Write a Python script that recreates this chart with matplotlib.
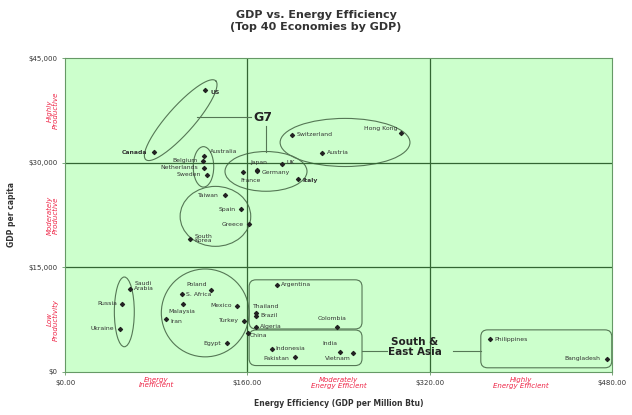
import numpy as np
import matplotlib.pyplot as plt
from matplotlib.patches import Ellipse, FancyBboxPatch

# data: GDP per million Btu, GDP per capita
countries = ["US", "Canada", "Australia", "Belgium", "Netherlands", "Sweden",
             "Taiwan", "Spain", "Greece", "South\nKorea",
             "Japan", "UK", "Germany", "France", "Italy",
             "Switzerland", "Hong Kong", "Austria",
             "Saudi\nArabia", "Russia", "Ukraine",
             "Poland", "S. Africa", "Malaysia", "Iran", "Mexico", "Turkey", "Egypt",
             "Argentina", "Thailand", "Brazil", "Algeria", "China", "Colombia",
             "Indonesia", "Pakistan", "India", "Vietnam",
             "Philippines", "Bangladesh"]
efficiency = [123, 78, 122, 121, 122, 124.5,
              140, 154.5, 161.7, 110,
              168.5, 190.5, 168.5, 156, 204.5,
              199.5, 295, 226,
              57, 50.3, 48.3,
              128, 102.4, 103.8, 88.4, 151, 157.4, 142,
              185.8, 167.6, 168, 167.6, 161, 238.5,
              181.4, 202, 241.4, 253,
              373, 476]
gdp_pc = [40400, 31500, 31000, 30300, 29300, 28300,
          25300, 23300, 21200, 19100,
          29000, 29800, 28800, 28650, 27700,
          34000, 34300, 31400,
          11900, 9800, 6200,
          11800, 11100, 9700, 7550, 9500, 7300, 4100,
          12500, 8400, 8050, 6500, 5550, 6400,
          3300, 2100, 2900, 2700,
          4700, 1900]

xticks = [0, 160, 320, 480]
yticks = [0, 15000, 30000, 45000]
xtick_labels = ["$0.00", "$160.00", "$320.00", "$480.00"]
ytick_labels = ["$0", "$15,000", "$30,000", "$45,000"]
x_bands = ["Energy\nInefficient", "Moderately\nEnergy Efficient", "Highly\nEnergy Efficient"]
y_bands = ["Low\nProductivity", "Moderately\nProductive", "Highly\nProductive"]

# label placement: (dx, dy) in points, ha, bold
place = {
    "US": (4, -2, "left", True), "Canada": (-5, 0, "right", True),
    "Australia": (4, 3, "left", False), "Belgium": (-4, 0, "right", False),
    "Netherlands": (-4, 0, "right", False), "Sweden": (-4, 0, "right", False),
    "Taiwan": (-4, 0, "right", False), "Spain": (-4, 0, "right", False),
    "Greece": (-4, 0, "right", False), "South\nKorea": (3, 0, "left", False),
    "Japan": (-5, 5, "left", False), "UK": (3, 1, "left", False),
    "Germany": (3, -1, "left", False), "France": (-2, -6, "left", False),
    "Italy": (3, -1, "left", True), "Switzerland": (3, 0, "left", False),
    "Hong Kong": (-3, 3, "right", False), "Austria": (3, 0, "left", False),
    "Saudi\nArabia": (3, 2, "left", False), "Russia": (-4, 0, "right", False),
    "Ukraine": (-4, 0, "right", False), "Poland": (-3, 4, "right", False),
    "S. Africa": (3, 0, "left", False), "Malaysia": (-11, -5, "left", False),
    "Iran": (3, -2, "left", False), "Mexico": (-4, 0, "right", False),
    "Turkey": (-4, 0, "right", False), "Egypt": (-4, 0, "right", False),
    "Argentina": (3, 0, "left", False), "Thailand": (-2, 5, "left", False),
    "Brazil": (3, 0, "left", False), "Algeria": (3, 0, "left", False),
    "China": (1, -2, "left", False), "Colombia": (-14, 6, "left", False),
    "Indonesia": (3, 0, "left", False), "Pakistan": (-4, -1, "right", False),
    "India": (-13, 6, "left", False), "Vietnam": (-2, -4, "right", False),
    "Philippines": (3, 0, "left", False), "Bangladesh": (-5, 0, "right", False),
}

fig = plt.figure(figsize=(6.32, 4.15), dpi=100)
ax = fig.add_axes([0.103, 0.104, 0.865, 0.756])
ax.set_facecolor("#ccffcc")
ax.set_xlim(0, 480)
ax.set_ylim(0, 45000)
for v in xticks[1:-1]:
    ax.axvline(v, color="#336633", lw=0.9)
for v in yticks[1:-1]:
    ax.axhline(v, color="#336633", lw=0.9)
for s in ax.spines.values():
    s.set_color("#669966")
    s.set_linewidth(0.8)

ax.set_xticks(xticks)
ax.set_xticklabels(xtick_labels, fontsize=5, color="#333333")
ax.set_yticks(yticks)
ax.set_yticklabels(ytick_labels, fontsize=5, color="#333333")
ax.tick_params(length=2, width=0.6, color="#669966")
ax.tick_params(axis="x", pad=4)
ax.set_xlabel("Energy Efficiency (GDP per Million Btu)", fontsize=5.5,
              fontweight="bold", color="#333333", labelpad=9)
ax.set_ylabel("GDP per capita", fontsize=5.5, fontweight="bold", color="#333333")
ax.yaxis.set_label_coords(-0.09, 0.5)
fig.suptitle("GDP vs. Energy Efficiency\n(Top 40 Economies by GDP)",
             fontsize=8, fontweight="bold", color="#333333", y=0.975)

ax.scatter(efficiency, gdp_pc, s=4, marker="D", color="#222222", zorder=4)
for name, x, y in zip(countries, efficiency, gdp_pc):
    dx, dy, ha, bold = place[name]
    ax.annotate(name, (x, y), xytext=(dx, dy), textcoords="offset points",
                ha=ha, va="center", fontsize=4.4, color="#333333",
                fontweight="bold" if bold else "normal", zorder=5,
                linespacing=0.9)

# band labels
for i, t in enumerate(x_bands):
    ax.text(80 + 160 * i, -700, t, ha="center", va="top", fontsize=5,
            style="italic", color="#ee2244", linespacing=0.95)
for i, t in enumerate(y_bands):
    ax.text(-11, 7500 + 15000 * i, t, ha="center", va="center", rotation=90,
            fontsize=5, style="italic", color="#ee2244", linespacing=0.95,
            clip_on=False)

# group outlines
ec = "#557755"
t = np.linspace(0, 2 * np.pi, 200)
c = np.array([101.5, 36100])
a = np.array([31, 5600])
b = np.array([-7.5, 1500])
ax.plot(c[0] + a[0] * np.cos(t) + b[0] * np.sin(t),
        c[1] + a[1] * np.cos(t) + b[1] * np.sin(t), color=ec, lw=0.8)
for cx, cy, w, h in [(121.5, 29400, 18, 5800), (132, 22300, 62, 8600),
                     (176.4, 28750, 72, 5700), (245.8, 32900, 114, 6900),
                     (52, 8600, 17.5, 10000), (123, 8450, 77, 12600)]:
    ax.add_patch(Ellipse((cx, cy), w, h, fill=False, ec=ec, lw=0.8))
asp = 143.3 / 0.8777
for x0, y0, x1, y1 in [(161.6, 6150, 260.7, 13200), (161.6, 900, 260.7, 6000),
                       (365, 580, 480, 6020)]:
    ax.add_patch(FancyBboxPatch((x0, y0), x1 - x0, y1 - y0,
                                boxstyle="round,pad=0,rounding_size=6",
                                mutation_aspect=asp, fill=False, ec=ec, lw=0.8,
                                clip_on=False))

ax.text(174, 36450, "G7", fontsize=9, fontweight="bold", color="#222222",
        ha="center", va="center")
ax.plot([116, 163], [36500, 36500], color=ec, lw=0.8)
ax.plot([176.4, 176.4], [35200, 31600], color=ec, lw=0.8)
ax.text(307, 3550, "South &\nEast Asia", fontsize=7.5, fontweight="bold",
        color="#222222", ha="center", va="center", linespacing=1.0)
ax.plot([260.7, 282.6], [3000, 3000], color=ec, lw=0.8)
ax.plot([340.5, 365], [3000, 3000], color=ec, lw=0.8)

fig.savefig("out.png", dpi=100)
